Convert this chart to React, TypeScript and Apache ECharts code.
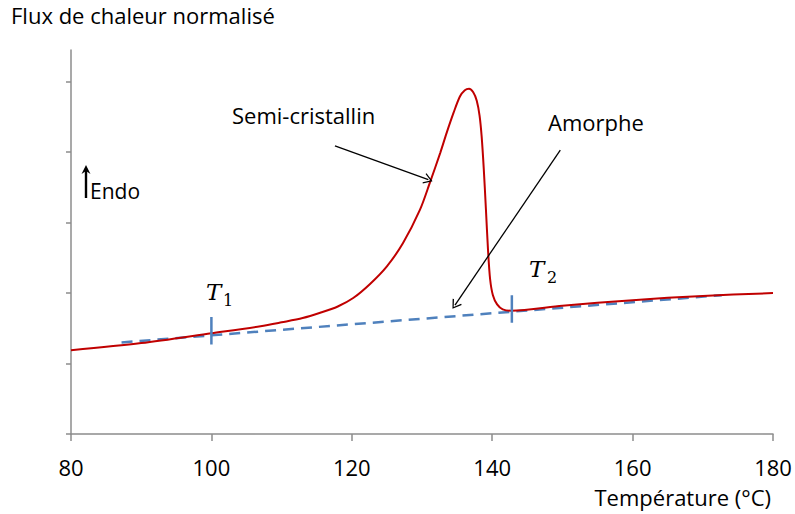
import React, { useEffect, useRef } from "react";
import * as echarts from "echarts";

// DSC curve of the semi-crystalline sample (temperature °C, normalised heat flux)
const temperature = [80, 90, 100, 107, 110, 113, 115.5, 118, 120.2, 122.6, 125, 127.3, 129.7, 131.1, 132.6, 133.5, 134.5, 135.4, 136.1, 136.7, 137.3, 137.8, 138.2, 138.5, 138.8, 139.1, 139.4, 139.7, 140.1, 140.7, 141.5, 142.7, 150, 160, 170, 180];
const flux = [1.19, 1.29, 1.43, 1.53, 1.585, 1.645, 1.72, 1.81, 1.93, 2.13, 2.38, 2.71, 3.18, 3.56, 3.99, 4.27, 4.56, 4.79, 4.88, 4.9, 4.85, 4.73, 4.52, 4.22, 3.76, 3.2, 2.62, 2.2, 1.97, 1.84, 1.77, 1.75, 1.82, 1.9, 1.96, 2.0];

// amorphous baseline (dashed)
const baseTemperature = [87.2, 172.7];
const baseFlux = [1.3, 1.97];

// T1 / T2 markers
const t1Temperature = [100, 100];
const t1Flux = [1.27, 1.66];
const t2Temperature = [142.8, 142.8];
const t2Flux = [1.58, 1.97];

// annotation arrows [from, to]
const semiArrow = [[117.6, 4.09], [130.9, 3.61]];
const amorpheArrow = [[149.7, 4.03], [134.7, 1.83]];

const xTicks = [80, 100, 120, 140, 160, 180];
const yTicks = [0, 1, 2, 3, 4, 5];

const FONT = "'Open Sans', sans-serif";
const SERIF = "'DejaVu Serif', serif";

const zip = (a: number[], b: number[]) => a.map((v, i) => [v, b[i]]);

export default function App() {
  const ref = useRef<HTMLDivElement>(null);
  useEffect(() => {
    if (!ref.current) return;
    const chart = echarts.init(ref.current, null, { renderer: "svg" });
    const chevron = "path://M0,10 L5,0 L10,10 L8.9,10.7 L5,2.6 L1.1,10.7 Z";
    chart.setOption({
      animation: false,
      grid: { left: 71, right: 22, top: 50, bottom: 80 },
      xAxis: {
        type: "value",
        min: 80,
        max: 180,
        interval: 20,
        axisLine: { lineStyle: { color: "#8c8c8c", width: 1.5 } },
        axisTick: { show: true, length: 7, lineStyle: { color: "#8c8c8c", width: 1.5 } },
        axisLabel: {
          color: "#000",
          fontSize: 22,
          fontFamily: FONT,
          margin: 22,
          customValues: xTicks,
        },
        splitLine: { show: false },
      },
      yAxis: {
        type: "value",
        min: 0,
        max: 5.45,
        axisLine: { show: true, lineStyle: { color: "#8c8c8c", width: 1.5 } },
        axisTick: {
          show: true,
          length: 5,
          customValues: yTicks,
          lineStyle: { color: "#8c8c8c", width: 1.5 },
        },
        axisLabel: { show: false },
        splitLine: { show: false },
      },
      series: [
        {
          type: "line",
          data: zip(baseTemperature, baseFlux),
          showSymbol: false,
          symbol: "none",
          lineStyle: { color: "#4F81BD", width: 2.5, type: [11, 7] },
          silent: true,
          z: 2,
        },
        {
          type: "line",
          data: zip(temperature, flux),
          showSymbol: false,
          symbol: "none",
          smooth: 0.3,
          lineStyle: { color: "#C00000", width: 2 },
          silent: true,
          z: 3,
          markLine: {
            silent: true,
            symbol: ["none", chevron],
            symbolSize: [11, 9],
            label: { show: false },
            lineStyle: { color: "#000", width: 1.3, type: "solid" },
            emphasis: { disabled: true },
            data: [
              [{ coord: semiArrow[0] }, { coord: semiArrow[1] }],
              [{ coord: amorpheArrow[0] }, { coord: amorpheArrow[1] }],
            ],
          },
        },
        {
          type: "line",
          data: zip(t1Temperature, t1Flux),
          symbol: "none",
          lineStyle: { color: "#4F81BD", width: 2.5 },
          silent: true,
          z: 4,
        },
        {
          type: "line",
          data: zip(t2Temperature, t2Flux),
          symbol: "none",
          lineStyle: { color: "#4F81BD", width: 2.5 },
          silent: true,
          z: 4,
        },
      ],
      graphic: [
        {
          type: "text",
          x: 11,
          y: 15,
          style: { text: "Flux de chaleur normalisé", fontSize: 22, fontFamily: FONT, fill: "#000", align: "left", verticalAlign: "middle" },
        },
        {
          type: "text",
          x: 771,
          y: 497,
          style: { text: "Température (°C)", fontSize: 22, fontFamily: FONT, fill: "#000", align: "right", verticalAlign: "middle" },
        },
        {
          type: "text",
          x: 232,
          y: 115,
          style: { text: "Semi-cristallin", fontSize: 22, fontFamily: FONT, fill: "#000", align: "left", verticalAlign: "middle" },
        },
        {
          type: "text",
          x: 548,
          y: 122,
          style: { text: "Amorphe", fontSize: 22, fontFamily: FONT, fill: "#000", align: "left", verticalAlign: "middle" },
        },
        {
          type: "line",
          shape: { x1: 86, y1: 198, x2: 86, y2: 170 },
          style: { stroke: "#000", lineWidth: 2.4 },
        },
        {
          type: "polygon",
          shape: { points: [[81.5, 174], [86, 165], [90.5, 174], [86, 171]] },
          style: { fill: "#000" },
        },
        {
          type: "text",
          x: 90,
          y: 191,
          style: { text: "Endo", fontSize: 21, fontFamily: FONT, fill: "#000", align: "left", verticalAlign: "middle" },
        },
        {
          type: "text",
          x: 206,
          y: 292,
          style: { text: "T", fontSize: 23, fontFamily: SERIF, fontStyle: "italic", fill: "#000", align: "left", verticalAlign: "middle" },
        },
        {
          type: "text",
          x: 223,
          y: 300,
          style: { text: "1", fontSize: 16, fontFamily: SERIF, fill: "#000", align: "left", verticalAlign: "middle" },
        },
        {
          type: "text",
          x: 529,
          y: 269,
          style: { text: "T", fontSize: 23, fontFamily: SERIF, fontStyle: "italic", fill: "#000", align: "left", verticalAlign: "middle" },
        },
        {
          type: "text",
          x: 547,
          y: 277,
          style: { text: "2", fontSize: 16, fontFamily: SERIF, fill: "#000", align: "left", verticalAlign: "middle" },
        },
      ],
    });
    return () => chart.dispose();
  }, []);
  return (
    <div
      ref={ref}
      style={{ position: "fixed", left: 0, top: 0, width: 795, height: 514, background: "#fff" }}
    />
  );
}
